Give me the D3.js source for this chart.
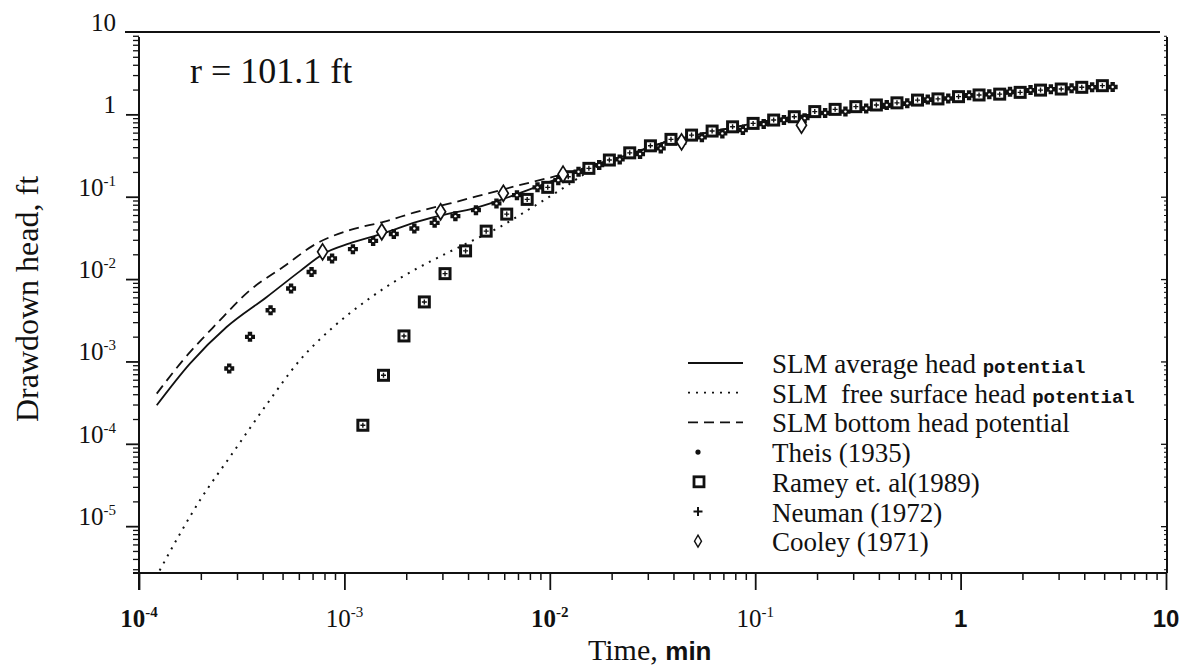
<!DOCTYPE html>
<html>
<head>
<meta charset="utf-8">
<script src="https://cdn.jsdelivr.net/npm/d3@7"></script>
<style>
  body { margin: 0; background: #fff; }
  svg { display: block; }
</style>
</head>
<body>
<div id="chart"></div>
<script>
// SLM model curves (time in min, drawdown in ft)
const avgTime = [1.22e-4, 1.77e-4, 2.67e-4, 4.19e-4, 6.08e-4, 7.89e-4, 1.06e-3, 1.55e-3, 2.25e-3, 3.27e-3, 3.94e-3, 5.73e-3, 8.28e-3, 1.21e-2, 1.75e-2, 2.54e-2, 3.72e-2, 5.38e-2, 7.80e-2, 0.114, 0.165, 0.419, 0.887, 1.88, 3.94, 5.65];
const avgHead = [2.94e-4, 9.42e-4, 2.62e-3, 6.07e-3, 1.25e-2, 2.02e-2, 2.71e-2, 3.59e-2, 4.95e-2, 6.27e-2, 6.87e-2, 9.10e-2, 0.127, 0.183, 0.251, 0.339, 0.468, 0.575, 0.692, 0.832, 0.955, 1.20, 1.55, 1.82, 2.09, 2.14];

const freeTime = [1.26e-4, 1.98e-4, 2.88e-4, 4.19e-4, 6.08e-4, 8.83e-4, 1.29e-3, 1.87e-3, 2.70e-3, 3.94e-3, 5.73e-3, 8.28e-3, 1.12e-2, 1.75e-2, 2.54e-2, 3.72e-2, 5.38e-2, 7.80e-2, 0.114, 0.165, 0.419, 0.887, 1.88, 3.94, 5.65];
const freeHead = [2.90e-6, 2.06e-5, 7.94e-5, 3.02e-4, 1.04e-3, 2.62e-3, 5.55e-3, 1.03e-2, 1.70e-2, 2.71e-2, 4.31e-2, 7.53e-2, 0.120, 0.242, 0.339, 0.468, 0.575, 0.692, 0.832, 0.955, 1.20, 1.55, 1.82, 2.09, 2.14];

const bottomTime = [1.22e-4, 1.64e-4, 2.39e-4, 3.47e-4, 5.05e-4, 7.33e-4, 1.06e-3, 1.55e-3, 2.25e-3, 3.27e-3, 5.73e-3, 8.28e-3, 1.21e-2, 1.75e-2, 2.54e-2, 3.72e-2, 5.38e-2, 7.80e-2, 0.114, 0.165, 0.419, 0.887, 1.88, 3.94, 5.65];
const bottomHead = [4.07e-4, 1.04e-3, 2.88e-3, 7.33e-3, 1.41e-2, 2.71e-2, 3.93e-2, 4.95e-2, 6.56e-2, 8.30e-2, 0.120, 0.152, 0.192, 0.256, 0.339, 0.468, 0.575, 0.692, 0.832, 0.955, 1.20, 1.55, 1.82, 2.09, 2.14];

// analytical solutions (points)
const neumanTime = [2.75e-4, 3.47e-4, 4.37e-4, 5.50e-4, 6.92e-4, 8.71e-4, 1.10e-3, 1.38e-3, 1.74e-3, 2.19e-3, 2.75e-3, 3.47e-3, 4.37e-3, 5.50e-3, 6.92e-3, 8.71e-3, 1.10e-2, 1.38e-2, 1.74e-2, 2.19e-2, 2.75e-2, 3.47e-2, 4.37e-2, 5.50e-2, 6.92e-2, 8.71e-2, 0.110, 0.138, 0.174, 0.219, 0.275, 0.347, 0.437, 0.550, 0.692, 0.871, 1.10, 1.38, 1.74, 2.19, 2.75, 3.47, 4.37, 5.50];
const neumanHead = [8.20e-4, 1.99e-3, 4.19e-3, 7.69e-3, 0.0122, 0.0178, 0.0231, 0.0291, 0.0352, 0.0412, 0.0482, 0.0581, 0.0687, 0.0830, 0.1045, 0.130, 0.159, 0.201, 0.242, 0.284, 0.330, 0.386, 0.452, 0.526, 0.587, 0.644, 0.762, 0.853, 0.90, 1.04, 1.08, 1.18, 1.30, 1.36, 1.52, 1.56, 1.71, 1.75, 1.88, 1.97, 2.02, 2.07, 2.13, 2.15];

const theisTime = neumanTime;
const theisHead = [8.20e-4, 1.99e-3, 4.19e-3, 7.69e-3, 0.0122, 0.0178, 0.0231, 0.0291, 0.0352, 0.0412, 0.0482, 0.0581, 0.0687, 0.0830, 0.1045, 0.130, 0.159, 0.201, 0.242, 0.284, 0.330, 0.386, 0.452, 0.526, 0.587, 0.644, 0.762, 0.853, 0.90, 1.04, 1.08, 1.18, 1.30, 1.36, 1.52, 1.56, 1.71, 1.75, 1.88, 1.97, 2.02, 2.07, 2.13, 2.15];

const rameyTime = [1.23e-3, 1.55e-3, 1.95e-3, 2.45e-3, 3.09e-3, 3.89e-3, 4.90e-3, 6.17e-3, 7.76e-3, 9.77e-3, 1.23e-2, 1.55e-2, 1.95e-2, 2.45e-2, 3.09e-2, 3.89e-2, 4.90e-2, 6.17e-2, 7.76e-2, 9.77e-2, 0.123, 0.155, 0.195, 0.245, 0.309, 0.389, 0.490, 0.617, 0.776, 0.977, 1.23, 1.55, 1.95, 2.45, 3.09, 3.89, 4.90];
const rameyHead = [1.68e-4, 6.79e-4, 2.04e-3, 5.28e-3, 0.01164, 0.0220, 0.0382, 0.0615, 0.0928, 0.130, 0.175, 0.221, 0.279, 0.341, 0.415, 0.497, 0.560, 0.627, 0.706, 0.777, 0.853, 0.936, 1.08, 1.15, 1.24, 1.30, 1.38, 1.49, 1.54, 1.64, 1.72, 1.76, 1.85, 1.97, 2.03, 2.13, 2.23];

const cooleyTime = [7.83e-4, 1.52e-3, 2.94e-3, 5.94e-3, 1.16e-2, 4.38e-2, 0.168];
const cooleyHead = [0.0214, 0.0375, 0.0656, 0.110, 0.188, 0.464, 0.74];

// axes
const xMajor = [1e-4, 1e-3, 1e-2, 1e-1, 1, 10];
const xTickBase = ["10", "10", "10", "10", "1", "10"];
const xTickExp = ["-4", "-3", "-2", "-1", "", ""];
const yMajor = [1e-5, 1e-4, 1e-3, 1e-2, 1e-1, 1, 10];
const yTickBase = ["10", "10", "10", "10", "10", "1", "10"];
const yTickExp = ["-5", "-4", "-3", "-2", "-1", "", ""];

const legendLabels = ["SLM average head ", "SLM  free surface head ", "SLM bottom head potential", "Theis (1935)", "Ramey et. al(1989)", "Neuman (1972)", "Cooley (1971)"];
const legendSuffix = ["potential", "potential", "", "", "", "", ""];
const legendKind = ["solid", "dotted", "dashed", "dot", "square", "plus", "diamond"];

const width = 1189, height = 669;
const serif = "'Liberation Serif', 'Times New Roman', serif";
const sans = "'Liberation Sans', Arial, sans-serif";

const svg = d3.select("#chart").append("svg")
    .attr("width", width)
    .attr("height", height);

const x = d3.scaleLog().domain([1e-4, 10]).range([139, 1166]);
const y = d3.scaleLog().domain([2.7e-6, 10]).range([573, 32]);

function minorTicks(lo, hi) {
    const out = [];
    for (let e = -6; e <= 1; e++) {
        for (let k = 2; k <= 9; k++) {
            const v = k * Math.pow(10, e);
            if (v > lo && v < hi) out.push(v);
        }
    }
    return out;
}
const xMinor = minorTicks(1e-4, 10);
const yMinor = minorTicks(2.7e-6, 10);

function styleAxis(g, w) {
    g.select(".domain").remove();
    g.selectAll(".tick line").attr("stroke", "#111").attr("stroke-width", w);
}

// frame lines
svg.append("line").attr("x1", 125).attr("x2", 1160).attr("y1", 32).attr("y2", 32)
    .attr("stroke", "#111").attr("stroke-width", 2);
svg.append("line").attr("x1", 1167).attr("x2", 1167).attr("y1", 37).attr("y2", 573)
    .attr("stroke", "#111").attr("stroke-width", 2);
svg.append("line").attr("x1", 139).attr("x2", 139).attr("y1", 37).attr("y2", 590)
    .attr("stroke", "#111").attr("stroke-width", 2);
svg.append("line").attr("x1", 133).attr("x2", 1167).attr("y1", 573).attr("y2", 573)
    .attr("stroke", "#111").attr("stroke-width", 2.2);

// bottom axis ticks
svg.append("g").attr("transform", "translate(0,573)")
    .call(d3.axisBottom(x).tickValues(xMajor).tickSize(17).tickFormat(""))
    .call(g => styleAxis(g, 1.8));
svg.append("g").attr("transform", "translate(0,573)")
    .call(d3.axisBottom(x).tickValues(xMinor).tickSize(7).tickFormat(""))
    .call(g => styleAxis(g, 1.5));

// left axis ticks
svg.append("g").attr("transform", "translate(139,0)")
    .call(d3.axisLeft(y).tickValues(yMajor.filter(v => v < 10)).tickSize(13).tickFormat(""))
    .call(g => styleAxis(g, 1.8));
svg.append("g").attr("transform", "translate(139,0)")
    .call(d3.axisLeft(y).tickValues(yMinor).tickSize(6).tickFormat(""))
    .call(g => styleAxis(g, 1.3));

// right axis ticks (inward)
svg.append("g").attr("transform", "translate(1167,0)")
    .call(d3.axisLeft(y).tickValues(yMajor.filter(v => v < 10)).tickSize(6).tickFormat(""))
    .call(g => styleAxis(g, 1.3));
svg.append("g").attr("transform", "translate(1167,0)")
    .call(d3.axisLeft(y).tickValues(yMinor).tickSize(3).tickFormat(""))
    .call(g => styleAxis(g, 1));

// x tick labels
const xBold = [true, false, true, false, true, true];
xMajor.forEach((v, i) => {
    const isSans = xTickExp[i] === "";
    const t = svg.append("text")
        .attr("x", x(v))
        .attr("y", 627)
        .attr("text-anchor", "middle")
        .attr("font-family", isSans ? sans : serif)
        .attr("font-weight", xBold[i] ? "bold" : "normal")
        .attr("font-size", isSans ? 24 : 25)
        .attr("fill", "#111");
    t.append("tspan").text(xTickBase[i]);
    if (xTickExp[i]) {
        t.append("tspan").attr("dy", -10).attr("font-size", 15).text(xTickExp[i]);
    }
});

// y tick labels
yMajor.forEach((v, i) => {
    const t = svg.append("text")
        .attr("x", 116)
        .attr("y", y(v) - 1)
        .attr("text-anchor", "end")
        .attr("font-family", serif)
        .attr("font-size", 25)
        .attr("fill", "#111");
    t.append("tspan").text(yTickBase[i]);
    if (yTickExp[i]) {
        t.append("tspan").attr("dy", -10).attr("font-size", 15).text(yTickExp[i]);
    }
});

// axis titles
svg.append("text")
    .attr("transform", "translate(38,299) rotate(-90)")
    .attr("text-anchor", "middle")
    .attr("font-family", serif)
    .attr("font-size", 32)
    .attr("fill", "#111")
    .text("Drawdown head, ft");

const xt = svg.append("text")
    .attr("x", 588)
    .attr("y", 660)
    .attr("font-family", serif)
    .attr("font-size", 30)
    .attr("fill", "#111");
xt.append("tspan").text("Time, ");
xt.append("tspan").attr("font-family", sans).attr("font-weight", "bold").attr("font-size", 26).text("min");

svg.append("text")
    .attr("x", 190)
    .attr("y", 83)
    .attr("font-family", serif)
    .attr("font-size", 36)
    .attr("fill", "#111")
    .text("r = 101.1 ft");

// curves
const zip = (a, b) => a.map((v, i) => [v, b[i]]);
const line = d3.line().x(d => x(d[0])).y(d => y(d[1])).curve(d3.curveMonotoneX);

const dashFor = { solid: null, dotted: "2,6", dashed: "10,6" };

svg.append("path").datum(zip(freeTime, freeHead))
    .attr("d", line).attr("fill", "none").attr("stroke", "#111")
    .attr("stroke-width", 2).attr("stroke-dasharray", dashFor.dotted);
svg.append("path").datum(zip(bottomTime, bottomHead))
    .attr("d", line).attr("fill", "none").attr("stroke", "#111")
    .attr("stroke-width", 1.8).attr("stroke-dasharray", dashFor.dashed);
svg.append("path").datum(zip(avgTime, avgHead))
    .attr("d", line).attr("fill", "none").attr("stroke", "#111")
    .attr("stroke-width", 1.8);

// marker drawing helpers
function drawSquare(g, cx, cy, s, w, inner) {
    g.append("rect").attr("x", cx - s / 2).attr("y", cy - s / 2)
        .attr("width", s).attr("height", s)
        .attr("fill", "#fff").attr("stroke", "#111").attr("stroke-width", w);
    if (inner) {
        g.append("path")
            .attr("d", `M${cx - 2.5},${cy}H${cx + 2.5}M${cx},${cy - 2.5}V${cy + 2.5}`)
            .attr("stroke", "#111").attr("stroke-width", 1.4);
    }
}
function drawPlus(g, cx, cy, a, w) {
    g.append("path")
        .attr("d", `M${cx - a},${cy}H${cx + a}M${cx},${cy - a}V${cy + a}`)
        .attr("stroke", "#111").attr("stroke-width", w);
}
function drawDiamond(g, cx, cy, hw, hh, w) {
    g.append("path")
        .attr("d", `M${cx},${cy - hh}L${cx + hw},${cy}L${cx},${cy + hh}L${cx - hw},${cy}Z`)
        .attr("fill", "#fff").attr("stroke", "#111").attr("stroke-width", w);
}

const marks = svg.append("g");
zip(rameyTime, rameyHead).forEach(d => drawSquare(marks, x(d[0]), y(d[1]), 10, 3, true));
zip(neumanTime, neumanHead).forEach(d => drawPlus(marks, x(d[0]), y(d[1]), 5, 4.4));
zip(theisTime, theisHead).forEach(d => {
    marks.append("circle").attr("cx", x(d[0])).attr("cy", y(d[1])).attr("r", 1.2).attr("fill", "#fff");
});
zip(cooleyTime, cooleyHead).forEach(d => drawDiamond(marks, x(d[0]), y(d[1]), 5, 8, 1.7));

// legend
const legend = svg.append("g");
legendLabels.forEach((label, i) => {
    const base = 373 + i * 29.7;
    const my = base - 10;
    const kind = legendKind[i];
    if (dashFor.hasOwnProperty(kind)) {
        legend.append("line").attr("x1", 688).attr("x2", 743).attr("y1", my).attr("y2", my)
            .attr("stroke", "#111").attr("stroke-width", 1.8)
            .attr("stroke-dasharray", dashFor[kind]);
    } else if (kind === "dot") {
        legend.append("circle").attr("cx", 698).attr("cy", my).attr("r", 2.6).attr("fill", "#111");
    } else if (kind === "square") {
        drawSquare(legend, 699, my, 10, 2.8, false);
    } else if (kind === "plus") {
        drawPlus(legend, 698, my, 4.5, 2);
    } else if (kind === "diamond") {
        drawDiamond(legend, 698, my, 3.5, 6, 1.4);
    }
    const t = legend.append("text")
        .attr("x", 772).attr("y", base)
        .attr("font-family", serif).attr("font-size", 27)
        .attr("fill", "#111")
        .style("white-space", "pre");
    t.append("tspan").text(label);
    if (legendSuffix[i]) {
        t.append("tspan")
            .attr("font-family", "'Liberation Mono', 'DejaVu Sans Mono', monospace")
            .attr("font-weight", "bold").attr("font-size", 19)
            .text(legendSuffix[i]);
    }
});
</script>
</body>
</html>
